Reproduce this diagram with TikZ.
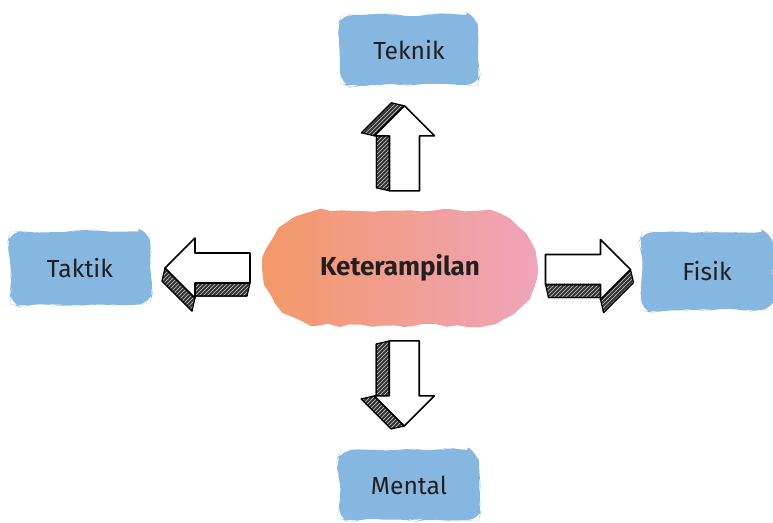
\documentclass[tikz,border=0pt]{standalone}
\usepackage{fontspec}
\setmainfont{Fira Sans}
\usetikzlibrary{calc,patterns,decorations.pathmorphing,shapes.misc}

\definecolor{paintblue}{RGB}{134,183,225}
\definecolor{paintpeach}{RGB}{243,152,104}
\definecolor{paintpink}{RGB}{239,164,188}
\definecolor{ink}{RGB}{35,31,32}

\tikzset{
  paint/.style={decorate,decoration={random steps,segment length=8pt,amplitude=1.3pt},
    inner sep=0pt, text=ink, font=\fontsize{18.5}{20}\selectfont},
  topic/.style={paint, rectangle, rounded corners=9pt, fill=paintblue},
  skillblob/.style={paint, rounded rectangle, left color=paintpeach, right color=paintpink,
    font=\fontsize{19.5}{21}\selectfont\bfseries},
  arrowside/.style={draw=black, line width=0.9pt, line join=round,
    preaction={fill=black!80}, pattern=north east lines, pattern color=white!80!black},
  arrowfront/.style={draw=black, fill=white, line width=1.2pt, line join=round},
  pics/skarrow/.style={code={
    \path[arrowside] (-13,-45) -- (17,-15) -- (2,-15) -- (2,40) -- (-28,40) -- (-28,-15) -- (-43,-15) -- cycle;
    \path[arrowside] (0,-42) -- (-30,-12) -- (-43,-15) -- (-13,-45) -- cycle;
    \path[arrowside] (-15,-12) -- (-15,43) -- (-28,40) -- (-28,-15) -- cycle;
    \path[arrowfront] (0,-42) -- (30,-12) -- (15,-12) -- (15,43) -- (-15,43) -- (-15,-12) -- (-30,-12) -- cycle;
  }}
}

\begin{document}
\begin{tikzpicture}[x=0.75pt,y=-0.75pt]
\useasboundingbox (0,0) rectangle (773,523);
\pgfmathsetseed{7}

% painted blobs
\node[skillblob, minimum width=204pt, minimum height=86pt] (skill) at (400,268) {Keterampilan};
\node[topic, minimum width=103.5pt, minimum height=52.5pt] (teknik) at (409,50) {Teknik};
\node[topic, minimum width=105pt, minimum height=55pt] (taktik) at (80,268) {Taktik};
\node[topic, minimum width=99pt, minimum height=58.5pt] (fisik) at (707,271) {Fisik};
\node[topic, minimum width=105pt, minimum height=52.5pt] (mental) at (409,485) {Mental};

% sketched arrows
\pic at ($(skill.north)!0.5!(teknik.south)$) {skarrow};
\pic[yscale=-1] at ($(skill.south)!0.47!(mental.north)$) {skarrow};
\pic[rotate=90] at ($(taktik.east)!0.5!(skill.west)$) {skarrow};
\pic[xscale=-1,rotate=90] at ($(skill.east)!0.5!(fisik.west)$) {skarrow};
\end{tikzpicture}
\end{document}
